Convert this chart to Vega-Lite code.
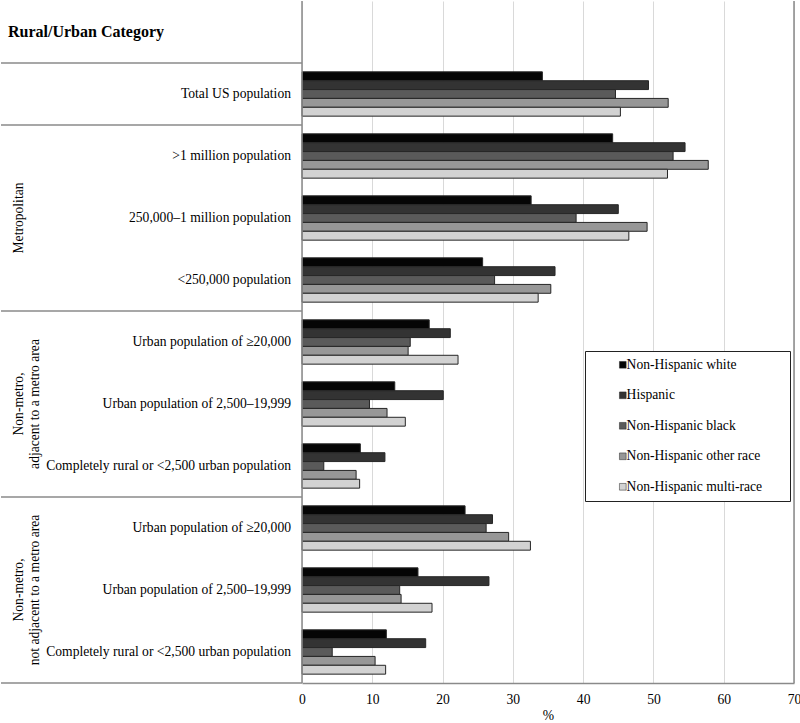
{
  "$schema": "https://vega.github.io/schema/vega-lite/v6.json",
  "padding": 0,
  "bounds": "flush",
  "spacing": 0,
  "background": "white",
  "config": {"view": {"stroke": null}, "font": "Liberation Serif, Times New Roman, serif"},
  "datasets": {
    "rows": [
      {"row": "r0", "label": "Rural/Urban Category", "kind": "header"},
      {"row": "r1", "label": "Total US population", "kind": "cat"},
      {"row": "r2", "label": ">1 million population", "kind": "cat"},
      {"row": "r3", "label": "250,000–1 million population", "kind": "cat"},
      {"row": "r4", "label": "<250,000 population", "kind": "cat"},
      {"row": "r5", "label": "Urban population of ≥20,000", "kind": "cat"},
      {"row": "r6", "label": "Urban population of 2,500–19,999", "kind": "cat"},
      {"row": "r7", "label": "Completely rural or <2,500 urban population", "kind": "cat"},
      {"row": "r8", "label": "Urban population of ≥20,000", "kind": "cat"},
      {"row": "r9", "label": "Urban population of 2,500–19,999", "kind": "cat"},
      {"row": "r10", "label": "Completely rural or <2,500 urban population", "kind": "cat"}
    ],
    "groups": [
      {"row": "r3", "group": "Metropolitan"},
      {"row": "r6", "group": "Non-metro,\nadjacent to a metro area"},
      {"row": "r9", "group": "Non-metro,\nnot adjacent to a metro area"}
    ],
    "bars": [
      {"row": "r1", "race": "Non-Hispanic white", "pct": 34.2},
      {"row": "r1", "race": "Hispanic", "pct": 49.3},
      {"row": "r1", "race": "Non-Hispanic black", "pct": 44.6},
      {"row": "r1", "race": "Non-Hispanic other race", "pct": 52.1},
      {"row": "r1", "race": "Non-Hispanic multi-race", "pct": 45.3},
      {"row": "r2", "race": "Non-Hispanic white", "pct": 44.2},
      {"row": "r2", "race": "Hispanic", "pct": 54.5},
      {"row": "r2", "race": "Non-Hispanic black", "pct": 52.8},
      {"row": "r2", "race": "Non-Hispanic other race", "pct": 57.8},
      {"row": "r2", "race": "Non-Hispanic multi-race", "pct": 52.0},
      {"row": "r3", "race": "Non-Hispanic white", "pct": 32.6},
      {"row": "r3", "race": "Hispanic", "pct": 45.0},
      {"row": "r3", "race": "Non-Hispanic black", "pct": 39.0},
      {"row": "r3", "race": "Non-Hispanic other race", "pct": 49.1},
      {"row": "r3", "race": "Non-Hispanic multi-race", "pct": 46.5},
      {"row": "r4", "race": "Non-Hispanic white", "pct": 25.7},
      {"row": "r4", "race": "Hispanic", "pct": 36.0},
      {"row": "r4", "race": "Non-Hispanic black", "pct": 27.4},
      {"row": "r4", "race": "Non-Hispanic other race", "pct": 35.4},
      {"row": "r4", "race": "Non-Hispanic multi-race", "pct": 33.6},
      {"row": "r5", "race": "Non-Hispanic white", "pct": 18.1},
      {"row": "r5", "race": "Hispanic", "pct": 21.1},
      {"row": "r5", "race": "Non-Hispanic black", "pct": 15.4},
      {"row": "r5", "race": "Non-Hispanic other race", "pct": 15.1},
      {"row": "r5", "race": "Non-Hispanic multi-race", "pct": 22.2},
      {"row": "r6", "race": "Non-Hispanic white", "pct": 13.2},
      {"row": "r6", "race": "Hispanic", "pct": 20.1},
      {"row": "r6", "race": "Non-Hispanic black", "pct": 9.6},
      {"row": "r6", "race": "Non-Hispanic other race", "pct": 12.1},
      {"row": "r6", "race": "Non-Hispanic multi-race", "pct": 14.7},
      {"row": "r7", "race": "Non-Hispanic white", "pct": 8.3},
      {"row": "r7", "race": "Hispanic", "pct": 11.8},
      {"row": "r7", "race": "Non-Hispanic black", "pct": 3.1},
      {"row": "r7", "race": "Non-Hispanic other race", "pct": 7.7},
      {"row": "r7", "race": "Non-Hispanic multi-race", "pct": 8.2},
      {"row": "r8", "race": "Non-Hispanic white", "pct": 23.2},
      {"row": "r8", "race": "Hispanic", "pct": 27.1},
      {"row": "r8", "race": "Non-Hispanic black", "pct": 26.2},
      {"row": "r8", "race": "Non-Hispanic other race", "pct": 29.4},
      {"row": "r8", "race": "Non-Hispanic multi-race", "pct": 32.5},
      {"row": "r9", "race": "Non-Hispanic white", "pct": 16.5},
      {"row": "r9", "race": "Hispanic", "pct": 26.6},
      {"row": "r9", "race": "Non-Hispanic black", "pct": 13.9},
      {"row": "r9", "race": "Non-Hispanic other race", "pct": 14.1},
      {"row": "r9", "race": "Non-Hispanic multi-race", "pct": 18.5},
      {"row": "r10", "race": "Non-Hispanic white", "pct": 12.0},
      {"row": "r10", "race": "Hispanic", "pct": 17.6},
      {"row": "r10", "race": "Non-Hispanic black", "pct": 4.3},
      {"row": "r10", "race": "Non-Hispanic other race", "pct": 10.4},
      {"row": "r10", "race": "Non-Hispanic multi-race", "pct": 11.9}
    ]
  },
  "hconcat": [
    {
      "width": 301,
      "height": 682,
      "layer": [
        {
          "data": {"name": "rows"},
          "transform": [{"filter": "datum.kind === 'cat'"}],
          "mark": {"type": "text", "align": "right", "baseline": "middle", "fontSize": 13.6, "font": "Liberation Serif, Times New Roman, serif", "color": "#000"},
          "encoding": {
            "y": {"field": "row", "type": "nominal", "bandPosition": 0.5, "scale": {"type": "band", "domain": ["r0", "r1", "r2", "r3", "r4", "r5", "r6", "r7", "r8", "r9", "r10"], "paddingInner": 0, "paddingOuter": 0}, "axis": null},
            "x": {"datum": 290, "type": "quantitative", "scale": {"domain": [0, 301], "nice": false}, "axis": null},
            "text": {"field": "label"}
          }
        },
        {
          "data": {"name": "rows"},
          "transform": [{"filter": "datum.kind === 'header'"}],
          "mark": {"type": "text", "align": "left", "baseline": "middle", "fontSize": 16, "fontWeight": "bold", "font": "Liberation Serif, Times New Roman, serif", "color": "#000"},
          "encoding": {
            "y": {"field": "row", "type": "nominal", "bandPosition": 0.5},
            "x": {"datum": 7, "type": "quantitative"},
            "text": {"field": "label"}
          }
        },
        {
          "data": {"name": "groups"},
          "mark": {"type": "text", "align": "center", "baseline": "middle", "angle": 270, "lineBreak": "\n", "fontSize": 13.6, "font": "Liberation Serif, Times New Roman, serif", "color": "#000"},
          "encoding": {
            "y": {"field": "row", "type": "nominal", "bandPosition": 0.5},
            "x": {"datum": 18, "type": "quantitative"},
            "text": {"field": "group"}
          }
        },
        {
          "data": {"name": "rows"},
          "transform": [{"filter": "indexof(['r1','r2','r5','r8'], datum.row) >= 0"}],
          "mark": {"type": "rule", "color": "#8a8a8a", "strokeWidth": 1.5},
          "encoding": {
            "y": {"field": "row", "type": "nominal", "bandPosition": 0},
            "x": {"datum": 0, "type": "quantitative"},
            "x2": {"datum": 301}
          }
        },
        {
          "data": {"name": "rows"},
          "transform": [{"filter": "datum.row === 'r10'"}],
          "mark": {"type": "rule", "color": "#8a8a8a", "strokeWidth": 1.5},
          "encoding": {
            "y": {"field": "row", "type": "nominal", "bandPosition": 1},
            "x": {"datum": 0, "type": "quantitative"},
            "x2": {"datum": 301}
          }
        }
      ]
    },
    {
      "width": 492,
      "height": 682,
      "layer": [
        {
          "data": {"name": "bars"},
          "mark": {"type": "bar", "stroke": "#262626", "strokeWidth": 1},
          "encoding": {
            "y": {"field": "row", "type": "nominal", "scale": {"type": "band", "domain": ["r0", "r1", "r2", "r3", "r4", "r5", "r6", "r7", "r8", "r9", "r10"], "paddingInner": 0, "paddingOuter": 0}, "axis": null},
            "yOffset": {"field": "race", "type": "nominal", "scale": {"domain": ["Non-Hispanic white", "Hispanic", "Non-Hispanic black", "Non-Hispanic other race", "Non-Hispanic multi-race"], "paddingInner": 0, "paddingOuter": 1.1}},
            "x": {
              "field": "pct", "type": "quantitative",
              "scale": {"domain": [0, 70], "nice": false},
              "axis": {"title": "%", "values": [0, 10, 20, 30, 40, 50, 60, 70], "grid": true, "gridColor": "#d9d9d9", "gridWidth": 1, "ticks": false, "domainColor": "#8a8a8a", "domainWidth": 1.5, "labelFlush": false, "labelFont": "Liberation Serif, Times New Roman, serif", "labelFontSize": 13.6, "labelColor": "#000", "labelPadding": 9, "titleFont": "Liberation Serif, Times New Roman, serif", "titleFontSize": 13.6, "titleFontWeight": "normal", "titleColor": "#000", "titlePadding": 3}
            },
            "color": {
              "field": "race", "type": "nominal",
              "scale": {"domain": ["Non-Hispanic white", "Hispanic", "Non-Hispanic black", "Non-Hispanic other race", "Non-Hispanic multi-race"], "range": ["#050505", "#333333", "#5a5a5a", "#979797", "#d2d2d2"]},
              "legend": {"orient": "none", "legendX": 584, "legendY": 350, "title": null, "symbolType": "square", "symbolSize": 45, "symbolStrokeColor": "#222", "symbolStrokeWidth": 0.5, "labelFont": "Liberation Serif, Times New Roman, serif", "labelFontSize": 13.6, "labelColor": "#000", "labelLimit": 300, "rowPadding": 15.5, "labelOffset": -3, "padding": 7, "symbolOffset": 24, "strokeColor": "#222", "fillColor": "white", "labelExpr": "datum.label + '\u2800\u2800'"}
            }
          }
        },
        {
          "data": {"values": [{"edge": 0}, {"edge": 70}]},
          "mark": {"type": "rule", "color": "#8a8a8a", "strokeWidth": 1.5},
          "encoding": {"x": {"field": "edge", "type": "quantitative"}}
        }
      ]
    }
  ]
}
